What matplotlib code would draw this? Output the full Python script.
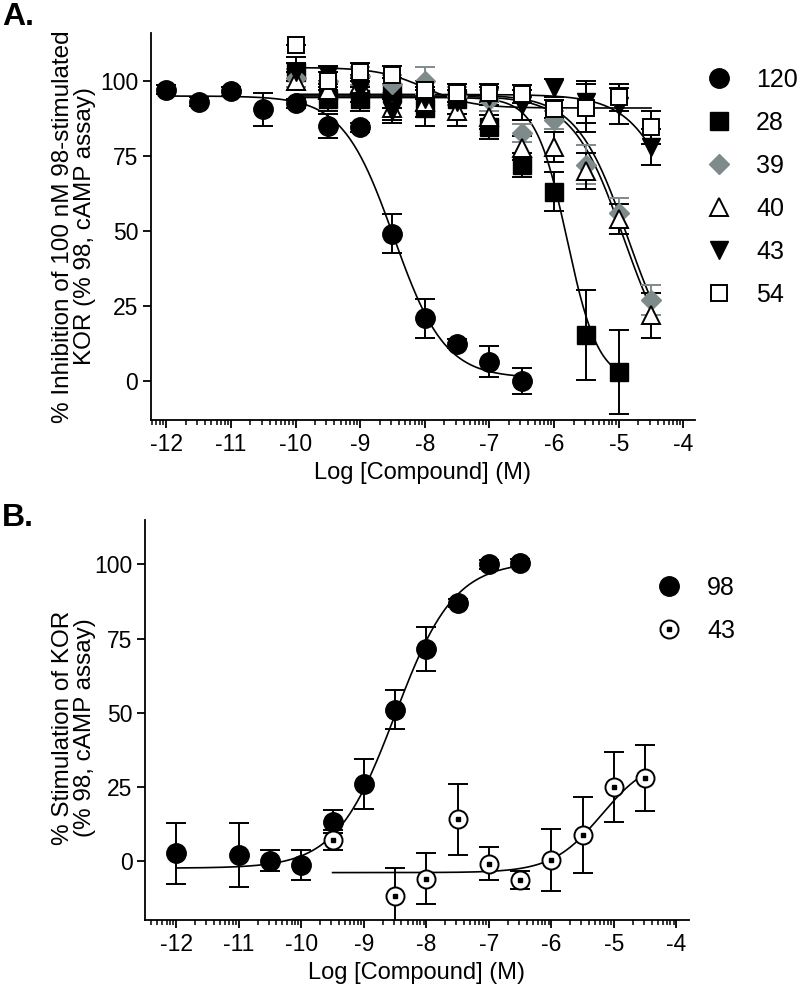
import numpy as np
import matplotlib.pyplot as plt
from matplotlib.lines import Line2D

plt.rcParams['font.family'] = ['Liberation Sans', 'DejaVu Sans']

#----- panel A: inhibition data -----
x120 = [-12, -11.5, -11, -10.5, -10, -9.5, -9, -8.5, -8, -7.5, -7, -6.5]
y120 = [97, 93, 96.5, 90.5, 92.5, 85, 84.5, 49, 21, 12.5, 6.5, 0]
e120 = [1.5, 1.5, 1.5, 5.5, 1.5, 4, 1.5, 6.5, 6.5, 1.5, 5.3, 4.3]

x28 = [-10, -9.5, -9, -8.5, -8, -7.5, -7, -6.5, -6, -5.5, -5]
y28 = [103, 94, 94, 96, 91, 94, 84.5, 72, 63, 15.5, 3]
e28 = [5, 4, 4, 5, 6, 5, 4, 4, 6.5, 15, 14]

xall = [-10, -9.5, -9, -8.5, -8, -7.5, -7, -6.5, -6, -5.5, -5, -4.5]
y39 = [101, 100, 101.5, 99, 100, 95, 93.5, 82.5, 87, 72, 56, 27]
e39 = [3, 3, 3, 3, 4.5, 3, 3.5, 3, 3, 6.5, 5, 5]
y40 = [100, 97, 99, 91, 93, 90, 88, 77.5, 78, 70, 54, 22]
e40 = [3, 3, 3, 4, 5, 5, 4, 4, 5, 6, 5, 7.5]
y43 = [103, 102, 97, 90, 94, 93, 95, 92, 97.5, 93, 91.5, 78]
e43 = [3, 3, 4, 4, 4, 4, 3, 5, 3, 7, 6, 6]
y54 = [112, 100, 103, 102, 97, 96, 96, 95.5, 90.5, 91, 94.5, 84.5]
e54 = [0, 3, 3, 3, 3, 3, 3, 3, 3, 8, 4.5, 5.5]

# fitted curves (top, bottom, logIC50, hill, x from, x to)
fitA = {
    '120': (95, 1, -8.48, 1.1, -12, -6.5),
    '28': (94.5, 0, -5.8, 1.8, -10, -5),
    '39': (95.5, 0, -4.86, 1.1, -10, -4.5),
    '40': (95, 0, -4.92, 1.1, -10, -4.5),
    '43': (95.5, 0, -3.9, 1.06, -10, -4.5),
    '54': (104.5, 91, -8.0, 1.2, -10, -4.5),
}

#----- panel B: stimulation data -----
x98 = [-12, -11, -10.5, -10, -9.5, -9, -8.5, -8, -7.5, -7, -6.5]
y98 = [2.5, 1.8, 0, -1.5, 13.2, 26, 51, 71.5, 87, 100, 100.5]
e98 = [10.3, 10.8, 3.6, 5, 3.8, 8.5, 6.7, 7.4, 1.5, 1.5, 1.5]

xb43 = [-9.5, -8.5, -8, -7.5, -7, -6.5, -6, -5.5, -5, -4.5]
yb43 = [7, -12, -6, 14, -1, -6.4, 0.3, 8.8, 24.8, 28]
eb43 = [3.5, 9.5, 8.7, 12, 5.6, 3.1, 10.5, 12.8, 11.8, 11.2]

fitB = {
    '98': (101, -2.5, -8.5, -0.92, -12, -6.5),
    '43': (35, -4, -5.2, -1.1, -9.5, -4.5),
}

gray = '#7f8a8a'


def curve(ax, p):
    top, bot, c, h, x0, x1 = p
    xs = np.linspace(x0, x1, 300)
    ys = bot + (top - bot) / (1 + 10 ** ((xs - c) * h))
    ax.plot(xs, ys, color='black', lw=1.2, zorder=2)


def style_axis(ax, xlim, ylim):
    ax.set_xlim(*xlim)
    ax.set_ylim(*ylim)
    for s in ['top', 'right']:
        ax.spines[s].set_visible(False)
    for s in ['left', 'bottom']:
        ax.spines[s].set_linewidth(1.3)
    ax.set_xticks(range(-12, -3))
    ax.set_xticklabels([str(v) for v in range(-12, -3)])
    minor = [d + np.log10(k) for d in range(-13, -3) for k in range(2, 10)]
    minor = [m for m in minor if xlim[0] <= m <= xlim[1]]
    ax.set_xticks(minor, minor=True)
    ax.set_yticks([0, 25, 50, 75, 100])
    ax.tick_params(axis='both', which='major', length=6, width=1.3,
                   labelsize=16.5, pad=3)
    ax.tick_params(axis='x', which='minor', length=3.5, width=1.1)
    ax.set_xlabel('Log [Compound] (M)', fontsize=17, labelpad=5)


fig = plt.figure(figsize=(8.04, 9.88), dpi=100)
W, H = 804.0, 988.0

#------ panel A ------
axA = fig.add_axes([150.7 / W, 1 - 420 / H, (695 - 150.7) / W, (420 - 33) / H])
style_axis(axA, (-12.24, -3.82), (-13, 116))

for k in ['120', '28', '39', '40', '43', '54']:
    curve(axA, fitA[k])

ebk = dict(capsize=7, elinewidth=1.4, capthick=1.4, ls='none', zorder=3)
axA.errorbar(x120, y120, yerr=e120, fmt='o', ms=14, color='black', **ebk)
axA.errorbar(x28, y28, yerr=e28, fmt='s', ms=13, color='black', **ebk)
axA.errorbar(xall, y39, yerr=e39, fmt='D', ms=10, color=gray, ecolor=gray, **ebk)
axA.errorbar(xall, y40, yerr=e40, fmt='^', ms=13, color='black',
             mfc='white', mew=1.4, **ebk)
axA.errorbar(xall, y43, yerr=e43, fmt='v', ms=13, color='black', **ebk)
axA.errorbar(xall, y54, yerr=e54, fmt='s', ms=12, color='black',
             mfc='white', mew=1.4, **ebk)

axA.set_ylabel('% Inhibition of 100 nM 98-stimulated\nKOR (% 98, cAMP assay)',
               fontsize=17.5, linespacing=1.0)
axA.yaxis.set_label_coords(-0.1, 0.5)

handlesA = [
    Line2D([], [], marker='o', ms=14, color='black', ls='none'),
    Line2D([], [], marker='s', ms=13, color='black', ls='none'),
    Line2D([], [], marker='D', ms=10, color=gray, ls='none'),
    Line2D([], [], marker='^', ms=13, color='black', mfc='white', mew=1.4, ls='none'),
    Line2D([], [], marker='v', ms=13, color='black', ls='none'),
    Line2D([], [], marker='s', ms=12, color='black', mfc='white', mew=1.4, ls='none'),
]
axA.legend(handlesA, ['120', '28', '39', '40', '43', '54'], loc='upper left',
           bbox_to_anchor=(706 / W, 1 - 68 / H), bbox_transform=fig.transFigure,
           frameon=False, fontsize=18, handlelength=1.0, handletextpad=1.0,
           labelspacing=0.76, borderpad=0, borderaxespad=0)

#------ panel B ------
axB = fig.add_axes([145 / W, 1 - 920 / H, (689 - 145) / W, (920 - 520) / H])
style_axis(axB, (-12.5, -3.8), (-20, 115))

for k in ['98', '43']:
    curve(axB, fitB[k])

axB.errorbar(x98, y98, yerr=e98, fmt='o', ms=14, color='black', **ebk)
axB.errorbar(xb43, yb43, yerr=eb43, fmt='o', ms=13, color='black',
             mfc='white', mew=1.4, **ebk)
axB.plot(xb43, yb43, 's', ms=3, color='black', zorder=4)

axB.set_ylabel('% Stimulation of KOR\n(% 98, cAMP assay)', fontsize=17.5,
               linespacing=1.0)
axB.yaxis.set_label_coords(-0.09, 0.48)

handlesB = [
    Line2D([], [], marker='o', ms=14, color='black', ls='none'),
    (Line2D([], [], marker='o', ms=13, color='black', mfc='white', mew=1.4, ls='none'),
     Line2D([], [], marker='s', ms=3, color='black', ls='none')),
]
axB.legend(handlesB, ['98', '43'], loc='upper left',
           bbox_to_anchor=(657 / W, 1 - 576 / H), bbox_transform=fig.transFigure,
           frameon=False, fontsize=18, handlelength=1.0, handletextpad=1.0,
           labelspacing=0.76, borderpad=0, borderaxespad=0)

fig.text(2 / W, 1 - 2 / H, 'A.', fontsize=23, fontweight='bold', va='top', ha='left')
fig.text(2 / W, 1 - 503 / H, 'B.', fontsize=23, fontweight='bold', va='top', ha='left')

fig.savefig('out.png', dpi=100)
